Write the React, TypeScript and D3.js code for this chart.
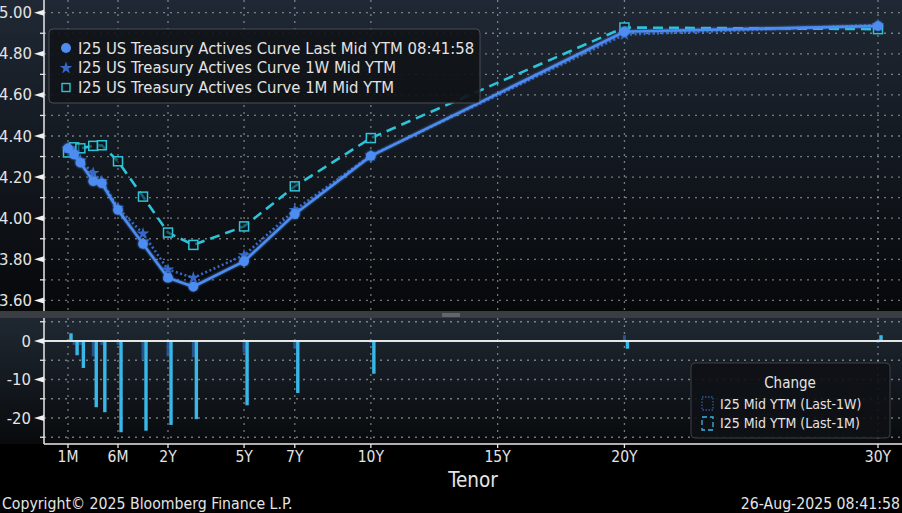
import React from "react";
import * as d3 from "d3";

// ---------- data ----------
const tenors = ["1M", "6W", "2M", "3M", "4M", "6M", "1Y", "2Y", "3Y", "5Y", "7Y", "10Y", "20Y", "30Y"];
const tenorYears = [1 / 12, 6 / 52, 8 / 52, 13 / 52, 17 / 52, 0.5, 1, 2, 3, 5, 7, 10, 20, 30];
const lastYTM = [4.34, 4.31, 4.27, 4.18, 4.17, 4.04, 3.875, 3.71, 3.667, 3.79, 4.02, 4.303, 4.908, 4.935];
const weekAgoYTM = [4.34, 4.32, 4.28, 4.22, 4.18, 4.05, 3.925, 3.75, 3.71, 3.82, 4.04, 4.305, 4.893, 4.94];
const monthAgoYTM = [4.32, 4.345, 4.34, 4.352, 4.355, 4.277, 4.105, 3.93, 3.87, 3.96, 4.155, 4.39, 4.928, 4.92];
const change1W = [0, -1, -1, -4, -1, -1, -5, -4, -4.2, -3, -2, -0.5, 1.5, -0.5];
const change1M = [2, -3.7, -7, -17.2, -18.5, -23.7, -23.3, -21.8, -20.3, -16.7, -13.5, -8.5, -2, 1.5];

const xTickLabels = ["1M", "6M", "2Y", "5Y", "7Y", "10Y", "15Y", "20Y", "30Y"];
const xTickYears = [1 / 12, 0.5, 2, 5, 7, 10, 15, 20, 30];
const upperTicks = [3.6, 3.8, 4.0, 4.2, 4.4, 4.6, 4.8, 5.0];
const upperMinor = [3.7, 3.9, 4.1, 4.3, 4.5, 4.7, 4.9];
const lowerTicks = [0, -10, -20];
const lowerMinor = [5, -5, -15, -25];

const legendTop = [
  "I25 US Treasury Actives Curve Last Mid YTM 08:41:58",
  "I25 US Treasury Actives Curve 1W Mid YTM",
  "I25 US Treasury Actives Curve 1M Mid YTM",
];
const legendBottomTitle = "Change";
const legendBottom = ["I25 Mid YTM (Last-1W)", "I25 Mid YTM (Last-1M)"];

// ---------- layout ----------
const W = 902;
const H = 513;
const AX = 44;
const UP_TOP = 0;
const UP_BOT = 311;
const LO_TOP = 318;
const LO_BOT = 444;

const FONT = "'DejaVu Sans Condensed', 'DejaVu Sans', sans-serif";
const TXT = "#e4e4e4";
const GRID = "rgba(200,205,210,0.55)";

const C_LAST = "#4d8df2";
const C_1W = "#3768c8";
const C_1M = "#2dc3d8";
const C_BAR1M = "#38b8e8";
const C_BAR1W = "#2a5c9e";

const xShort = d3.scaleSqrt().domain([1 / 12, 0.5]).range([68, 118]);
const xLong = d3.scaleLinear().domain([0.5, 1, 2, 30]).range([118, 143, 168, 878]);
const x = (t: number) => (t <= 0.5 ? xShort(t) : xLong(t));

const yU = d3.scaleLinear().domain([3.6, 5.0]).range([300.4, 12.7]);
const yL = d3.scaleLinear().domain([-20, 0]).range([418, 341]);

type Pt = [number, number];

function linePath(vals: number[]) {
  const pts: Pt[] = vals.map((v, i) => [x(tenorYears[i]), yU(v)]);
  return d3.line()(pts) || "";
}

const starPath = d3.symbol().type(d3.symbolStar).size(50)() || "";

export default function App() {
  return (
    <svg width={W} height={H} style={{ display: "block", position: "absolute", left: 0, top: 0, background: "#000" }}
      fontFamily={FONT}>
      <defs>
        <linearGradient id="gU" x1="0" y1="0" x2="0" y2="1">
          <stop offset="0" stopColor="#1f2834" />
          <stop offset="0.55" stopColor="#12171e" />
          <stop offset="1" stopColor="#06080a" />
        </linearGradient>
        <linearGradient id="gL" x1="0" y1="0" x2="0" y2="1">
          <stop offset="0" stopColor="#1f2832" />
          <stop offset="1" stopColor="#080a0c" />
        </linearGradient>
        <filter id="glow" x="-20%" y="-20%" width="140%" height="140%">
          <feGaussianBlur stdDeviation="1.2" result="b" />
          <feMerge>
            <feMergeNode in="b" />
            <feMergeNode in="SourceGraphic" />
          </feMerge>
        </filter>
      </defs>
      <rect x={0} y={0} width={W} height={H} fill="#000" />
      <rect x={0} y={UP_TOP} width={W} height={UP_BOT - UP_TOP} fill="url(#gU)" />
      <rect x={0} y={LO_TOP} width={W} height={LO_BOT - LO_TOP} fill="url(#gL)" />
      {/* separator */}
      <rect x={0} y={UP_BOT} width={W} height={LO_TOP - UP_BOT} fill="#3a3e43" />
      <line x1={442} x2={460} y1={314} y2={314} stroke="#8a8e92" strokeWidth={1} />
      <line x1={442} x2={460} y1={316} y2={316} stroke="#8a8e92" strokeWidth={1} />

      {/* ---------- upper grid ---------- */}
      {[...upperTicks, ...upperMinor].map((v) => (
        <line key={"gu" + v} x1={AX} x2={W} y1={yU(v)} y2={yU(v)} stroke={GRID} strokeWidth={1.3} strokeDasharray="2,5" />
      ))}
      {xTickYears.map((t, i) => (
        <line key={"gv" + i} x1={x(t)} x2={x(t)} y1={UP_TOP} y2={UP_BOT} stroke={GRID} strokeWidth={1.3} strokeDasharray="2,5" />
      ))}
      {/* lower grid */}
      {[...lowerTicks.filter((v) => v !== 0), ...lowerMinor].map((v) => (
        <line key={"gl" + v} x1={AX} x2={W} y1={yL(v)} y2={yL(v)} stroke={GRID} strokeWidth={1.3} strokeDasharray="2,5" />
      ))}
      {xTickYears.map((t, i) => (
        <line key={"glv" + i} x1={x(t)} x2={x(t)} y1={LO_TOP} y2={LO_BOT} stroke={GRID} strokeWidth={1.3} strokeDasharray="2,5" />
      ))}

      {/* ---------- axes upper ---------- */}
      <line x1={AX} x2={AX} y1={UP_TOP} y2={UP_BOT} stroke="#e8e8e8" strokeWidth={1.5} />
      {upperTicks.map((v) => (
        <g key={"tu" + v}>
          <polygon points={`${AX - 10},${yU(v)} ${AX},${yU(v) - 3} ${AX},${yU(v) + 3}`} fill="#f0f0f0" />
          <text x={32} y={yU(v)} fill={TXT} fontSize={16.5} textAnchor="end" dominantBaseline="central">
            {v.toFixed(2)}
          </text>
        </g>
      ))}
      {upperMinor.map((v) => (
        <line key={"mu" + v} x1={AX - 4} x2={AX} y1={yU(v)} y2={yU(v)} stroke="#e8e8e8" strokeWidth={1.3} />
      ))}

      {/* ---------- axes lower ---------- */}
      <line x1={AX} x2={AX} y1={LO_TOP} y2={LO_BOT} stroke="#e8e8e8" strokeWidth={1.5} />
      <line x1={AX} x2={W} y1={LO_BOT} y2={LO_BOT} stroke="#e8e8e8" strokeWidth={1.5} />
      {lowerTicks.map((v) => (
        <g key={"tl" + v}>
          <polygon points={`${AX - 10},${yL(v)} ${AX},${yL(v) - 3} ${AX},${yL(v) + 3}`} fill="#f0f0f0" />
          <text x={31} y={yL(v)} fill={TXT} fontSize={16.5} textAnchor="end" dominantBaseline="central">
            {v}
          </text>
        </g>
      ))}
      {lowerMinor.map((v) => (
        <line key={"ml" + v} x1={AX - 4} x2={AX} y1={yL(v)} y2={yL(v)} stroke="#e8e8e8" strokeWidth={1.3} />
      ))}
      {xTickYears.map((t, i) => (
        <g key={"tx" + i}>
          <line x1={x(t)} x2={x(t)} y1={LO_BOT} y2={LO_BOT + 4} stroke="#e8e8e8" strokeWidth={1.3} />
          <text x={x(t)} y={457} fill={TXT} fontSize={15.5} textAnchor="middle" dominantBaseline="central">
            {xTickLabels[i]}
          </text>
        </g>
      ))}
      <text x={473} y={480} fill={TXT} fontSize={20.5} textAnchor="middle" dominantBaseline="central">Tenor</text>

      {/* ---------- bars ---------- */}
      {change1W.map((v, i) => {
        const cx = x(tenorYears[i]);
        const y0 = yL(0), y1 = yL(v);
        return (
          <rect key={"b1w" + i} x={cx - 1.5} y={Math.min(y0, y1)} width={3} height={Math.abs(y1 - y0)}
            fill={C_BAR1W} opacity={0.85} />
        );
      })}
      {change1M.map((v, i) => {
        const cx = x(tenorYears[i]) + 3;
        const y0 = yL(0), y1 = yL(v);
        return (
          <rect key={"b1m" + i} x={cx - 1.7} y={Math.min(y0, y1)} width={3.4} height={Math.abs(y1 - y0)}
            fill={C_BAR1M} />
        );
      })}
      <line x1={AX} x2={W} y1={yL(0)} y2={yL(0)} stroke="#e6e6e6" strokeWidth={2} />

      {/* ---------- curves ---------- */}
      <path d={linePath(monthAgoYTM)} fill="none" stroke={C_1M} strokeWidth={2.6} strokeDasharray="10,6" />
      {monthAgoYTM.map((v, i) => (
        <rect key={"sq" + i} x={x(tenorYears[i]) - 4.5} y={yU(v) - 4.5} width={9} height={9}
          fill="rgba(12,18,24,0.55)" stroke={C_1M} strokeWidth={1.5} />
      ))}
      <path d={linePath(weekAgoYTM)} fill="none" stroke={C_1W} strokeWidth={2.6} strokeDasharray="2,2.5" />
      {weekAgoYTM.map((v, i) => (
        <path key={"st" + i} d={starPath} transform={`translate(${x(tenorYears[i])},${yU(v)})`} fill={C_1W} />
      ))}
      <g filter="url(#glow)">
        <path d={linePath(lastYTM)} fill="none" stroke={C_LAST} strokeWidth={2.4} />
        {lastYTM.map((v, i) => (
          <circle key={"c" + i} cx={x(tenorYears[i])} cy={yU(v)} r={4.8} fill={C_LAST} />
        ))}
      </g>

      {/* ---------- top legend ---------- */}
      <rect x={49} y={29} width={431} height={74} rx={4} fill="#101318" fillOpacity={0.92} stroke="#4a4f55" strokeWidth={1} />
      <circle cx={66} cy={48} r={5} fill={C_LAST} />
      <path d={starPath} transform="translate(66,68)" fill={C_1W} />
      <rect x={62} y={83.5} width={8} height={8} fill="none" stroke={C_1M} strokeWidth={1.4} />
      {legendTop.map((s, i) => (
        <text key={"lt" + i} x={78} y={48 + i * 19.5} fill={TXT} fontSize={16.5} dominantBaseline="central">{s}</text>
      ))}

      {/* ---------- bottom legend ---------- */}
      <rect x={691} y={363} width={199} height={75} rx={4} fill="#0e1115" fillOpacity={0.9} stroke="#3c4046" strokeWidth={1} />
      <text x={790} y={383} fill={TXT} fontSize={15} textAnchor="middle" dominantBaseline="central">{legendBottomTitle}</text>
      <rect x={702} y={397} width={11} height={13} fill="none" stroke={C_BAR1W} strokeWidth={1.3} strokeDasharray="1.5,1.5" />
      <rect x={702} y={417} width={11} height={13} fill="none" stroke={C_BAR1M} strokeWidth={1.3} strokeDasharray="5,3" />
      {legendBottom.map((s, i) => (
        <text key={"lb" + i} x={720} y={404 + i * 19} fill={TXT} fontSize={14} dominantBaseline="central">{s}</text>
      ))}

      {/* ---------- footer ---------- */}
      <text x={2} y={503} fill={TXT} fontSize={15.7} dominantBaseline="central">Copyright© 2025 Bloomberg Finance L.P.</text>
      <text x={900} y={503} fill={TXT} fontSize={15.7} textAnchor="end" dominantBaseline="central">26-Aug-2025 08:41:58</text>
    </svg>
  );
}
